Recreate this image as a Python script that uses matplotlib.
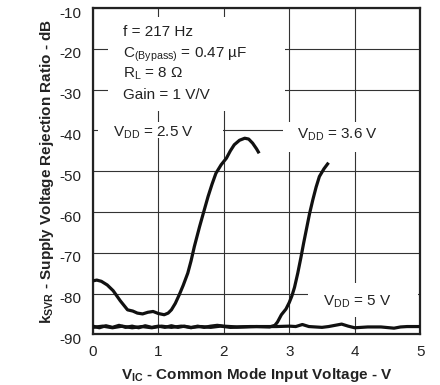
import matplotlib
matplotlib.use("Agg")
import matplotlib.pyplot as plt
from matplotlib.patches import Rectangle
import matplotlib.transforms as mtransforms

plt.rcParams['font.family'] = ['Liberation Sans', 'DejaVu Sans']
plt.rcParams['mathtext.fontset'] = 'custom'
plt.rcParams['mathtext.rm'] = 'Liberation Sans'
plt.rcParams['mathtext.bf'] = 'Liberation Sans:bold'
plt.rcParams['mathtext.default'] = 'regular'

# ---- data ----
x_25 = [0.0, 0.06, 0.13, 0.22, 0.31, 0.42, 0.53, 0.61, 0.68, 0.76, 0.84, 0.92, 1.0, 1.09,
        1.15, 1.2, 1.26, 1.32, 1.38, 1.45, 1.5, 1.55, 1.63, 1.7, 1.76, 1.82, 1.88, 1.96,
        2.04, 2.1, 2.16, 2.24, 2.32, 2.38, 2.44, 2.5, 2.54]
y_25 = [-76.9, -76.7, -77.0, -77.9, -79.3, -81.8, -84.0, -84.3, -84.8, -85.0, -84.6,
        -84.4, -84.9, -85.2, -84.8, -84.0, -82.4, -80.3, -78.0, -75.0, -72.0, -68.5,
        -63.6, -59.6, -56.2, -53.2, -50.5, -48.4, -46.8, -45.0, -43.5, -42.4, -41.9,
        -42.1, -43.1, -44.5, -45.6]

x_36 = [0.0, 0.15, 0.3, 0.45, 0.6, 0.75, 0.9, 1.05, 1.2, 1.35, 1.5, 1.65, 1.8, 1.95,
        2.1, 2.3, 2.5, 2.7, 2.78, 2.82, 2.88, 2.95, 3.0, 3.04, 3.08, 3.13, 3.18, 3.22,
        3.26, 3.31, 3.36, 3.41, 3.46, 3.53, 3.6]
y_36 = [-88.3, -88.0, -88.4, -88.0, -88.4, -88.1, -88.4, -88.0, -88.3, -88.0, -88.3,
        -88.1, -88.3, -88.0, -88.3, -88.2, -88.1, -88.2, -87.8, -87.0, -85.2, -83.8,
        -82.2, -80.6, -78.5, -75.0, -71.0, -67.6, -64.4, -60.4, -57.0, -53.9, -51.3,
        -49.4, -47.9]

x_5 = [0.0, 0.1, 0.2, 0.3, 0.4, 0.5, 0.6, 0.7, 0.8, 0.9, 1.0, 1.1, 1.2, 1.3, 1.4, 1.5,
       1.6, 1.7, 1.8, 1.9, 2.0, 2.2, 2.4, 2.6, 2.8, 3.0, 3.1, 3.2, 3.3, 3.5, 3.6, 3.7,
       3.8, 3.9, 4.0, 4.2, 4.4, 4.6, 4.7, 4.8, 5.0]
y_5 = [-88.0, -88.4, -87.9, -88.3, -87.8, -88.3, -88.0, -88.4, -87.9, -88.3, -88.0,
       -88.3, -87.9, -88.3, -88.0, -88.4, -88.0, -88.3, -88.0, -87.8, -88.0, -88.2,
       -88.1, -88.1, -88.1, -88.0, -88.1, -87.6, -88.1, -88.3, -88.1, -87.8, -87.5,
       -88.0, -88.4, -88.2, -88.2, -88.5, -88.2, -88.1, -88.1]

x_ticks = [0, 1, 2, 3, 4, 5]
y_ticks = [-90, -80, -70, -60, -50, -40, -30, -20, -10]

conditions = ["f = 217 Hz", "C$_{(Bypass)}$ = 0.47 µF", "R$_{L}$ = 8 Ω", "Gain = 1 V/V"]
series_labels = ["V$_{DD}$ = 2.5 V", "V$_{DD}$ = 3.6 V", "V$_{DD}$ = 5 V"]

# ---- figure ----
fig = plt.figure(figsize=(4.4, 3.85), dpi=100)
ax = fig.add_axes([0.211, 0.1317, 0.744, 0.847])
ax.set_xlim(0, 5)
ax.set_ylim(-90, -10)
ax.set_xticks(x_ticks)
ax.set_yticks(y_ticks)
ax.set_xticklabels([str(v) for v in x_ticks])
ax.set_yticklabels([str(v) for v in y_ticks])
ax.tick_params(length=0, labelsize=11, colors='#222222', pad=8)
ax.grid(True, color='#333333', linewidth=0.8, zorder=0)
ax.set_axisbelow(True)
for s in ax.spines.values():
    s.set_linewidth(1.6)
    s.set_color('#222222')

off = mtransforms.ScaledTranslation(0, -4 / 100, fig.dpi_scale_trans)
for lab in ax.get_yticklabels():
    lab.set_transform(lab.get_transform() + off)

# white masks behind annotations
for (x0, x1, y0, y1) in [(0.23, 2.94, -35.2, -12.2),
                         (0.08, 1.99, -41.8, -37.9),
                         (2.91, 5.0, -45.3, -37.9),
                         (3.29, 4.97, -85.7, -77.4)]:
    ax.add_patch(Rectangle((x0, y0), x1 - x0, y1 - y0, facecolor='white',
                           edgecolor='none', zorder=1))

lw = 2.3
ax.plot(x_5, y_5, color='#111111', lw=lw, zorder=3, solid_capstyle='butt')
ax.plot(x_36, y_36, color='#111111', lw=lw, zorder=3, solid_capstyle='butt')
ax.plot(x_25, y_25, color='#111111', lw=lw, zorder=3, solid_capstyle='butt')

fs = 11
ys = [-15.8, -21.5, -26.1, -31.4]
for t, yy in zip(conditions, ys):
    ax.text(0.46, yy, t, fontsize=fs, va='center', ha='left', color='#222222', zorder=4)

ax.text(0.31, -40.6, series_labels[0], fontsize=fs, va='center', ha='left', color='#222222', zorder=4)
ax.text(3.12, -41.0, series_labels[1], fontsize=fs, va='center', ha='left', color='#222222', zorder=4)
ax.text(3.52, -82.0, series_labels[2], fontsize=fs, va='center', ha='left', color='#222222', zorder=4)

ax.set_xlabel("V$_{IC}$ - Common Mode Input Voltage - V", fontsize=11, fontweight='bold',
              color='#222222', labelpad=5)
ax.set_ylabel("k$_{SVR}$ - Supply Voltage Rejection Ratio - dB", fontsize=11, fontweight='bold',
              color='#222222', labelpad=3)

fig.savefig("out.png", dpi=100)
